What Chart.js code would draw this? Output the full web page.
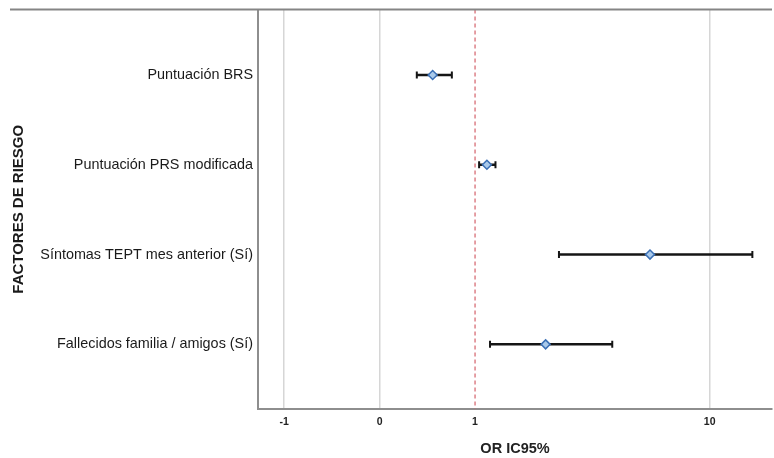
<!DOCTYPE html>
<html lang="es">
<head>
  <meta charset="UTF-8" />
  <title>Factores de riesgo - OR IC95%</title>
  <script src="https://cdn.jsdelivr.net/npm/chart.js"></script>
  <style>
    html, body { margin: 0; padding: 0; background: #fff; }
    #wrap { width: 774px; height: 458px; }
  </style>
</head>
<body>
<div id="wrap"><canvas id="forest" width="774" height="458"></canvas></div>

<script>
  // factores de riesgo, de arriba a abajo
  const factors = [
    "Puntuación BRS",
    "Puntuación PRS modificada",
    "Síntomas TEPT mes anterior (Sí)",
    "Fallecidos familia / amigos (Sí)"
  ];
  const orValues = [0.47, 1.18, 6.13, 2.34];
  const ciLow = [0.31, 1.06, 2.68, 1.23];
  const ciHigh = [0.69, 1.32, 14.0, 4.42];
  const xTicks = [-1, 0, 1, 10];
  const refValue = 1;

  // eje "safe log" como el de SPSS: sign(x) * log10(|x| + 1)
  const sl = v => Math.sign(v) * Math.log10(Math.abs(v) + 1);
  const slInv = t => Math.sign(t) * (Math.pow(10, Math.abs(t)) - 1);

  class SafeLogScale extends Chart.LinearScale {
    determineDataLimits() {
      this.min = this.options.min;
      this.max = this.options.max;
    }
    buildTicks() {
      return xTicks.map(v => ({ value: v }));
    }
    configure() {
      super.configure();
      this._tStart = sl(this.min);
      this._tRange = sl(this.max) - sl(this.min);
    }
    getPixelForValue(value) {
      return this.getPixelForDecimal((sl(value) - this._tStart) / this._tRange);
    }
    getValueForPixel(pixel) {
      return slInv(this._tStart + this.getDecimalForPixel(pixel) * this._tRange);
    }
  }
  SafeLogScale.id = "safelog";
  SafeLogScale.defaults = Chart.LinearScale.defaults;
  Chart.register(SafeLogScale);

  const yMin = 0.27, yMax = 4.72;

  const ciSets = factors.map((f, i) => ({
    type: "line",
    label: f,
    data: [{ x: ciLow[i], y: i + 1 }, { x: ciHigh[i], y: i + 1 }],
    borderColor: "#151515",
    borderWidth: 2.5,
    pointStyle: "line",
    pointRotation: 90,
    pointRadius: 3.5,
    pointBorderWidth: 2,
    pointBorderColor: "#151515",
    order: 1
  }));

  const orSet = {
    type: "scatter",
    label: "OR",
    data: orValues.map((v, i) => ({ x: v, y: i + 1 })),
    pointStyle: "rectRot",
    pointRadius: 4.5,
    backgroundColor: "#a9c9ea",
    borderColor: "#3a6fb5",
    borderWidth: 1.5,
    order: 0
  };

  const refSet = {
    type: "line",
    label: "ref",
    data: [{ x: refValue, y: yMin }, { x: refValue, y: yMax }],
    borderColor: "#d4606a",
    borderWidth: 1.2,
    borderDash: [4, 3],
    pointRadius: 0,
    order: 2
  };

  const topLine = {
    id: "topLine",
    afterDraw(chart) {
      const { ctx, chartArea } = chart;
      ctx.save();
      ctx.strokeStyle = "#858585";
      ctx.lineWidth = 2;
      ctx.beginPath();
      ctx.moveTo(10, chartArea.top);
      ctx.lineTo(chartArea.right, chartArea.top);
      ctx.stroke();
      ctx.restore();
    }
  };

  new Chart(document.getElementById("forest"), {
    data: { datasets: [refSet, ...ciSets, orSet] },
    plugins: [topLine],
    options: {
      responsive: false,
      animation: false,
      layout: { autoPadding: false, padding: { top: 9.5, right: 2, left: 0, bottom: 0 } },
      plugins: { legend: { display: false }, tooltip: { enabled: false } },
      scales: {
        x: {
          type: "safelog",
          min: -1.42,
          max: 16.3,
          afterFit: s => { s.height = 49; s.paddingLeft = 0; s.paddingRight = 0; },
          grid: {
            color: ctx => (ctx.tick && ctx.tick.value === refValue) ? "rgba(0,0,0,0)" : "#d6d6d6",
            lineWidth: 1.5,
            drawTicks: false
          },
          border: { color: "#8e8e8e", width: 2 },
          ticks: {
            callback: v => String(v),
            font: { family: "Liberation Sans", size: 10.5, weight: "bold" },
            color: "#222",
            padding: 7,
            maxRotation: 0
          },
          title: {
            display: true,
            text: "OR IC95%",
            font: { family: "Liberation Sans", size: 14.5, weight: "bold" },
            color: "#222",
            padding: { top: 5, bottom: 0 }
          }
        },
        y: {
          type: "linear",
          reverse: true,
          min: yMin,
          max: yMax,
          afterFit: s => { s.width = 258; s.paddingTop = 0; s.paddingBottom = 0; },
          afterBuildTicks: s => { s.ticks = factors.map((f, i) => ({ value: i + 1 })); },
          grid: { display: false, drawTicks: false },
          border: { color: "#8e8e8e", width: 2 },
          ticks: {
            callback: v => factors[v - 1],
            font: { family: "Liberation Sans", size: 14.4 },
            color: "#1a1a1a",
            padding: 5
          },
          title: {
            display: true,
            text: "FACTORES DE RIESGO",
            font: { family: "Liberation Sans", size: 15, weight: "bold" },
            color: "#1a1a1a",
            padding: { top: 10, bottom: 0 }
          }
        }
      }
    }
  });
</script>
</body>
</html>
